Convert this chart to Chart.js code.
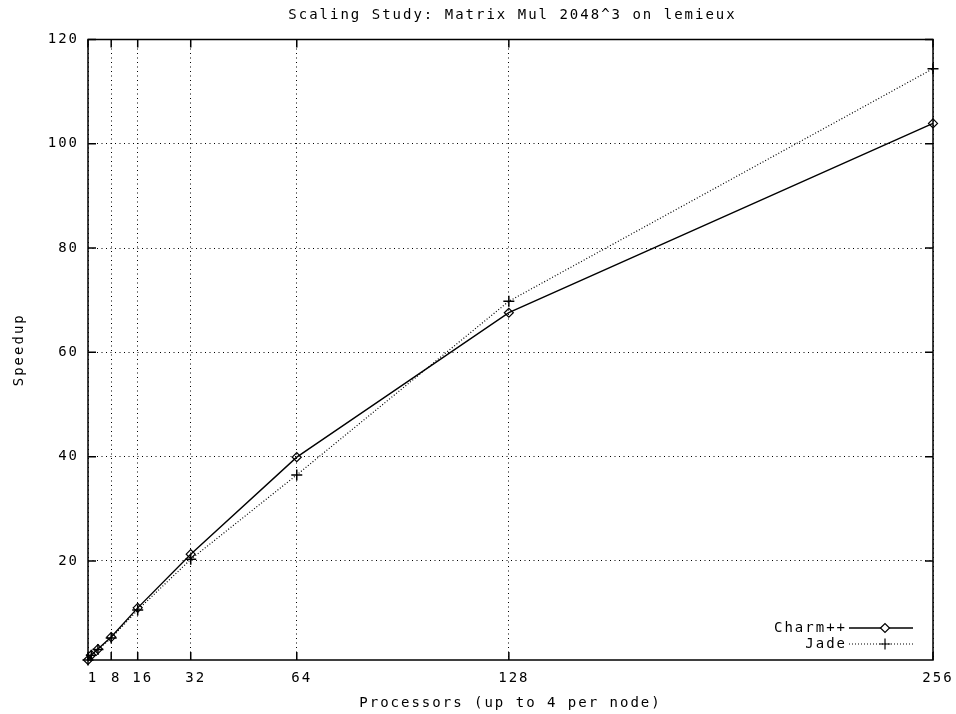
<!DOCTYPE html>
<html><head><meta charset="utf-8">
<script src="https://cdn.jsdelivr.net/npm/chart.js@4/dist/chart.umd.min.js"></script>
<style>html,body{margin:0;padding:0;background:#fff}#wrap{width:956px;height:714px}</style>
</head><body><div id="wrap"><canvas id="c" width="956" height="714"></canvas></div>
<script>
const chartTitle = 'Scaling Study: Matrix Mul 2048^3 on lemieux';
const xTitle = 'Processors (up to 4 per node)';
const yTitle = 'Speedup';
const seriesNames = ['Charm++', 'Jade'];
const processors = [1, 2, 4, 8, 16, 32, 64, 128, 256];
const charmSpeedup = [1, 1.95, 3.1, 5.4, 11.0, 21.3, 39.9, 67.6, 103.9];
const jadeSpeedup = [1, 1.9, 3.0, 5.2, 10.6, 20.3, 36.5, 69.8, 114.4];
const xTickValues = [1, 8, 16, 32, 64, 128, 256];
const yTickValues = [20, 40, 60, 80, 100, 120];

const FONT = "'DejaVu Sans Mono', 'Liberation Mono', monospace";
const FS = 14;
const LS = '2px';

const gnuplotPlugin = {
  id: 'gnuplot',
  beforeUpdate(chart) { chart.ctx.letterSpacing = LS; },
  beforeDraw(chart) {
    const ctx = chart.ctx;
    ctx.letterSpacing = LS;
    ctx.save();
    ctx.fillStyle = '#fff';
    ctx.fillRect(0, 0, chart.width, chart.height);
    ctx.restore();
  },
  beforeDatasetsDraw(chart) {
    const ctx = chart.ctx, ca = chart.chartArea;
    const xs = chart.scales.x, ys = chart.scales.y;
    ctx.save();
    ctx.strokeStyle = '#000';
    ctx.lineWidth = 1.5;
    ctx.setLineDash([]);
    ctx.strokeRect(ca.left, ca.top, ca.right - ca.left, ca.bottom - ca.top);
    const L = 8;
    ctx.beginPath();
    xTickValues.forEach(v => {
      const px = xs.getPixelForValue(v);
      ctx.moveTo(px, ca.bottom); ctx.lineTo(px, ca.bottom - L);
      ctx.moveTo(px, ca.top); ctx.lineTo(px, ca.top + L);
    });
    yTickValues.forEach(v => {
      const py = ys.getPixelForValue(v);
      ctx.moveTo(ca.left, py); ctx.lineTo(ca.left + L, py);
      ctx.moveTo(ca.right, py); ctx.lineTo(ca.right - L, py);
    });
    ctx.stroke();
    ctx.restore();
  },
  afterDraw(chart) {
    const ctx = chart.ctx, ca = chart.chartArea;
    ctx.save();
    ctx.letterSpacing = LS;
    ctx.fillStyle = '#000';
    ctx.font = FS + 'px ' + FONT;
    ctx.textAlign = 'center';
    ctx.textBaseline = 'middle';
    ctx.fillText(chartTitle, (ca.left + ca.right) / 2 + 2, 15);
    // legend
    const dsets = chart.data.datasets;
    const textX = ca.right - 86;
    const x1 = ca.right - 84, x2 = ca.right - 20, mx = x1 + 36;
    dsets.forEach((ds, i) => {
      const y = ca.bottom - 32 + i * 16;
      ctx.textAlign = 'right';
      ctx.fillText(ds.label, textX, y);
      ctx.save();
      ctx.strokeStyle = ds.borderColor;
      ctx.lineWidth = ds.borderWidth;
      ctx.setLineDash(ds.borderDash || []);
      ctx.beginPath();
      ctx.moveTo(x1, y); ctx.lineTo(x2, y);
      ctx.stroke();
      ctx.restore();
      ctx.save();
      ctx.fillStyle = '#fff';
      ctx.strokeStyle = '#000';
      Chart.helpers.drawPoint(ctx, {pointStyle: ds.pointStyle, radius: ds.pointRadius, borderWidth: ds.pointBorderWidth, rotation: 0}, mx, y);
      ctx.restore();
    });
    ctx.restore();
  }
};

new Chart(document.getElementById('c'), {
  type: 'line',
  data: {
    labels: processors,
    datasets: [
      {
        label: seriesNames[0],
        data: processors.map((p, i) => ({x: p, y: charmSpeedup[i]})),
        borderColor: '#000', backgroundColor: 'rgba(255,255,255,0)',
        borderWidth: 1.4, tension: 0, fill: false,
        pointStyle: 'rectRot', pointRadius: 4.5, pointBorderWidth: 1.2,
        pointBackgroundColor: 'rgba(255,255,255,0)', pointBorderColor: '#000',
        clip: false
      },
      {
        label: seriesNames[1],
        data: processors.map((p, i) => ({x: p, y: jadeSpeedup[i]})),
        borderColor: '#000', backgroundColor: 'rgba(255,255,255,0)',
        borderWidth: 1.2, borderDash: [1, 2], tension: 0, fill: false,
        pointStyle: 'cross', pointRadius: 5.5, pointBorderWidth: 1.5,
        pointBorderColor: '#000',
        clip: false
      }
    ]
  },
  options: {
    responsive: false,
    animation: false,
    devicePixelRatio: 1,
    layout: {padding: {top: 39.5, right: 23, left: 0, bottom: 0}},
    plugins: {legend: {display: false}, title: {display: false}, tooltip: {enabled: false}},
    scales: {
      x: {
        type: 'linear', min: 1, max: 256,
        afterFit(s) { s.height = 54; s.paddingLeft = 0; s.paddingRight = 0; },
        afterBuildTicks(s) { s.ticks = xTickValues.map(v => ({value: v})); },
        ticks: {color: '#000', font: {family: FONT, size: FS}, padding: 10, maxRotation: 0, autoSkip: false,
          labelOffset: 5, callback: v => String(v)},
        grid: {color: '#000', lineWidth: 1, drawTicks: false},
        border: {display: false, dash: [1, 3.5]},
        title: {display: true, text: xTitle, color: '#000', font: {family: FONT, size: FS}, padding: {top: 0, bottom: 2}}
      },
      y: {
        type: 'linear', min: 1, max: 120,
        afterFit(s) { s.width = 88; },
        afterBuildTicks(s) { s.ticks = yTickValues.map(v => ({value: v})); },
        ticks: {color: '#000', font: {family: FONT, size: FS}, padding: 9, autoSkip: false,
          callback: v => String(v)},
        grid: {color: '#000', lineWidth: 1, drawTicks: false},
        border: {display: false, dash: [1, 3.5]},
        title: {display: true, text: yTitle, color: '#000', font: {family: FONT, size: FS}, padding: {top: 11, bottom: 0}}
      }
    }
  },
  plugins: [gnuplotPlugin]
});
</script>
</body></html>
